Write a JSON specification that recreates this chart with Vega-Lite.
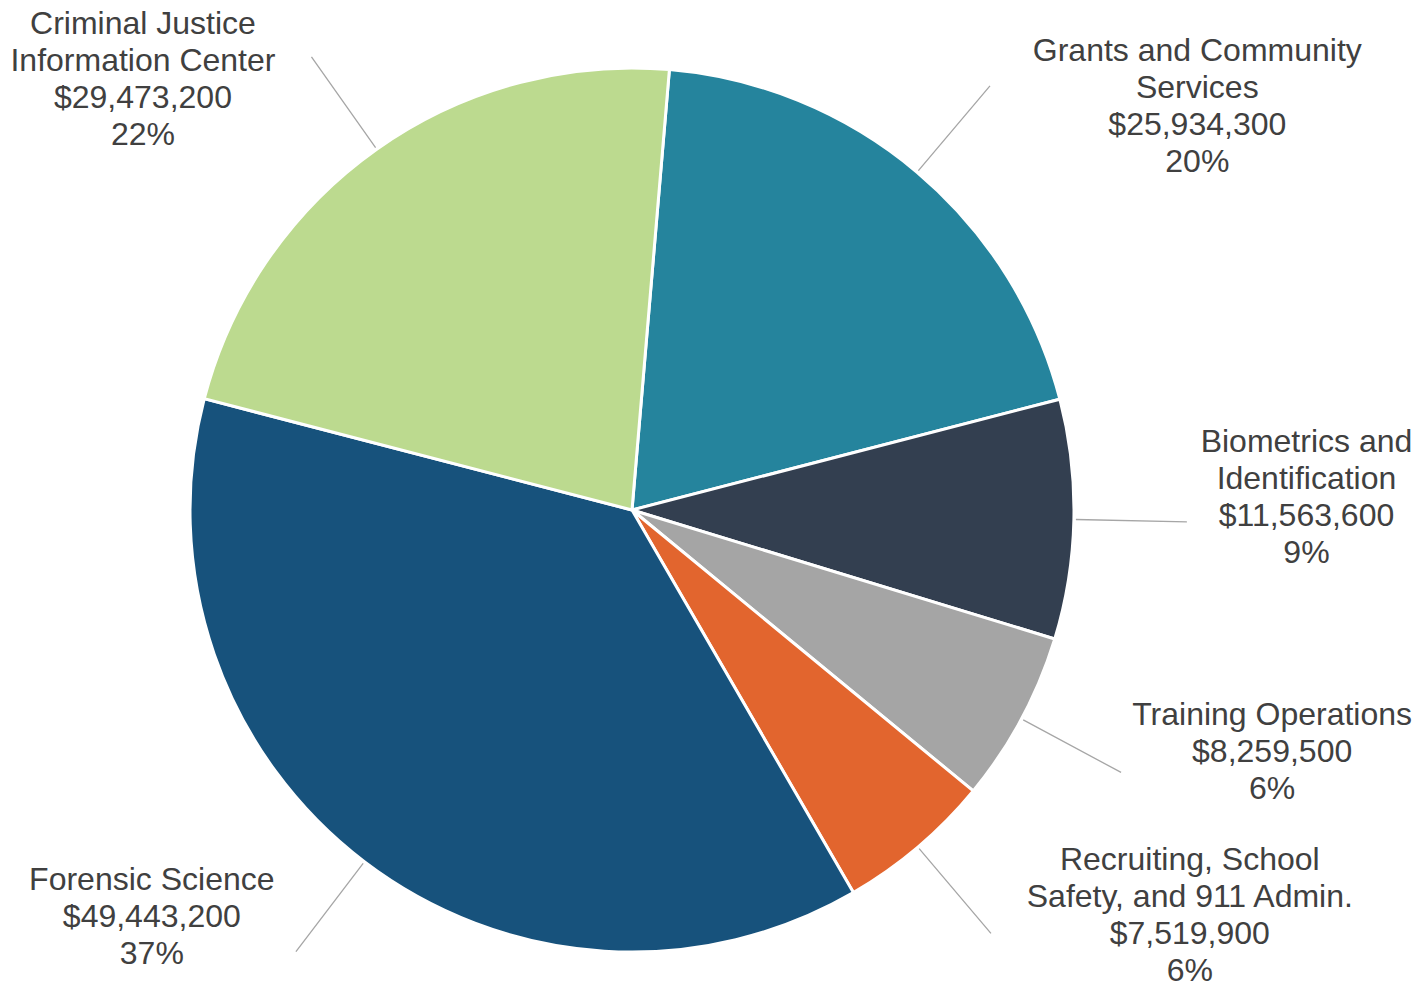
{
  "$schema": "https://vega.github.io/schema/vega-lite/v6.json",
  "width": 1264,
  "height": 960,
  "autosize": {"type": "none"},
  "padding": {"left": 0, "top": 30, "right": 162, "bottom": 0},
  "background": "white",
  "config": {"view": {"stroke": null}, "text": {"font": "Liberation Sans"}},
  "data": {
    "values": [
      {"category": "Grants and Community Services", "order": 1, "value": 25934300, "side": "right", "label": "Grants and Community\nServices\n$25,934,300\n20%"},
      {"category": "Biometrics and Identification", "order": 2, "value": 11563600, "side": "right", "label": "Biometrics and\nIdentification\n$11,563,600\n9%"},
      {"category": "Training Operations", "order": 3, "value": 8259500, "side": "right", "label": "Training Operations\n$8,259,500\n6%"},
      {"category": "Recruiting, School Safety, and 911 Admin.", "order": 4, "value": 7519900, "side": "right", "label": "Recruiting, School\nSafety, and 911 Admin.\n$7,519,900\n6%"},
      {"category": "Forensic Science", "order": 5, "value": 49443200, "side": "left", "label": "Forensic Science\n$49,443,200\n37%"},
      {"category": "Criminal Justice Information Center", "order": 6, "value": 29473200, "side": "left", "label": "Criminal Justice\nInformation Center\n$29,473,200\n22%"}
    ]
  },
  "resolve": {"scale": {"theta": "independent"}},
  "layer": [
    {
      "mark": {"type": "arc", "radius": 442, "stroke": "white", "strokeWidth": 3},
      "encoding": {
        "theta": {"field": "value", "type": "quantitative", "stack": true, "scale": {"domain": [0, 132193700], "range": [0.0847, 6.3679]}},
        "order": {"field": "order", "type": "quantitative"},
        "color": {
          "field": "category", "type": "nominal", "legend": null,
          "scale": {
            "domain": ["Grants and Community Services", "Biometrics and Identification", "Training Operations", "Recruiting, School Safety, and 911 Admin.", "Forensic Science", "Criminal Justice Information Center"],
            "range": ["#25849D", "#333F50", "#A5A5A5", "#E2652E", "#17527C", "#BCDA8F"]
          }
        }
      }
    },
    {
      "transform": [
        {"stack": "value", "groupby": [], "sort": [{"field": "order", "order": "ascending"}], "as": ["v0", "v1"]},
        {"fold": ["v0", "v1"], "as": ["edge_key", "edge"]},
        {"aggregate": [{"op": "mean", "field": "edge", "as": "mid"}], "groupby": ["category", "side", "label"]}
      ],
      "mark": {"type": "arc", "radius": 444, "radius2": 555, "fillOpacity": 0, "stroke": "#A6A6A6", "strokeWidth": 1.3},
      "encoding": {
        "theta": {"field": "mid", "type": "quantitative", "scale": {"domain": [0, 132193700], "range": [0.0847, 6.3679]}},
        "theta2": {"field": "mid"}
      }
    },
    {
      "transform": [
        {"stack": "value", "groupby": [], "sort": [{"field": "order", "order": "ascending"}], "as": ["v0", "v1"]},
        {"fold": ["v0", "v1"], "as": ["edge_key", "edge"]},
        {"aggregate": [{"op": "mean", "field": "edge", "as": "mid"}], "groupby": ["category", "side", "label"]},
        {"filter": "datum.side == 'right' && length(split(datum.label, '\\n')) == 4"}
      ],
      "mark": {"type": "text", "radius": 782, "dx": -107.5, "dy": -60.5, "align": "center", "baseline": "middle", "fontSize": 32, "lineHeight": 37, "lineBreak": "\n", "fill": "#404040"},
      "encoding": {
        "theta": {"field": "mid", "type": "quantitative", "scale": {"type": "pow", "exponent": 1.2, "domain": [0, 132193700], "range": [0.7634, 5.1844]}},
        "text": {"field": "label", "type": "nominal"}
      }
    },
    {
      "transform": [
        {"stack": "value", "groupby": [], "sort": [{"field": "order", "order": "ascending"}], "as": ["v0", "v1"]},
        {"fold": ["v0", "v1"], "as": ["edge_key", "edge"]},
        {"aggregate": [{"op": "mean", "field": "edge", "as": "mid"}], "groupby": ["category", "side", "label"]},
        {"filter": "datum.side == 'right' && length(split(datum.label, '\\n')) == 3"}
      ],
      "mark": {"type": "text", "radius": 782, "dx": -107.5, "dy": -24.3, "align": "center", "baseline": "middle", "fontSize": 32, "lineHeight": 37, "lineBreak": "\n", "fill": "#404040"},
      "encoding": {
        "theta": {"field": "mid", "type": "quantitative", "scale": {"type": "pow", "exponent": 1.2, "domain": [0, 132193700], "range": [0.7634, 5.1844]}},
        "text": {"field": "label", "type": "nominal"}
      }
    },
    {
      "transform": [
        {"stack": "value", "groupby": [], "sort": [{"field": "order", "order": "ascending"}], "as": ["v0", "v1"]},
        {"fold": ["v0", "v1"], "as": ["edge_key", "edge"]},
        {"aggregate": [{"op": "mean", "field": "edge", "as": "mid"}], "groupby": ["category", "side", "label"]},
        {"filter": "datum.side == 'left' && length(split(datum.label, '\\n')) == 4"}
      ],
      "mark": {"type": "text", "radius": 520, "dx": -177, "dy": -70.5, "align": "center", "baseline": "middle", "fontSize": 32, "lineHeight": 37, "lineBreak": "\n", "fill": "#404040"},
      "encoding": {
        "theta": {"field": "mid", "type": "quantitative", "scale": {"domain": [0, 132193700], "range": [0.0568, 6.34]}},
        "text": {"field": "label", "type": "nominal"}
      }
    },
    {
      "transform": [
        {"stack": "value", "groupby": [], "sort": [{"field": "order", "order": "ascending"}], "as": ["v0", "v1"]},
        {"fold": ["v0", "v1"], "as": ["edge_key", "edge"]},
        {"aggregate": [{"op": "mean", "field": "edge", "as": "mid"}], "groupby": ["category", "side", "label"]},
        {"filter": "datum.side == 'left' && length(split(datum.label, '\\n')) == 3"}
      ],
      "mark": {"type": "text", "radius": 520, "dx": -177, "dy": -52, "align": "center", "baseline": "middle", "fontSize": 32, "lineHeight": 37, "lineBreak": "\n", "fill": "#404040"},
      "encoding": {
        "theta": {"field": "mid", "type": "quantitative", "scale": {"domain": [0, 132193700], "range": [0.0568, 6.34]}},
        "text": {"field": "label", "type": "nominal"}
      }
    }
  ]
}
